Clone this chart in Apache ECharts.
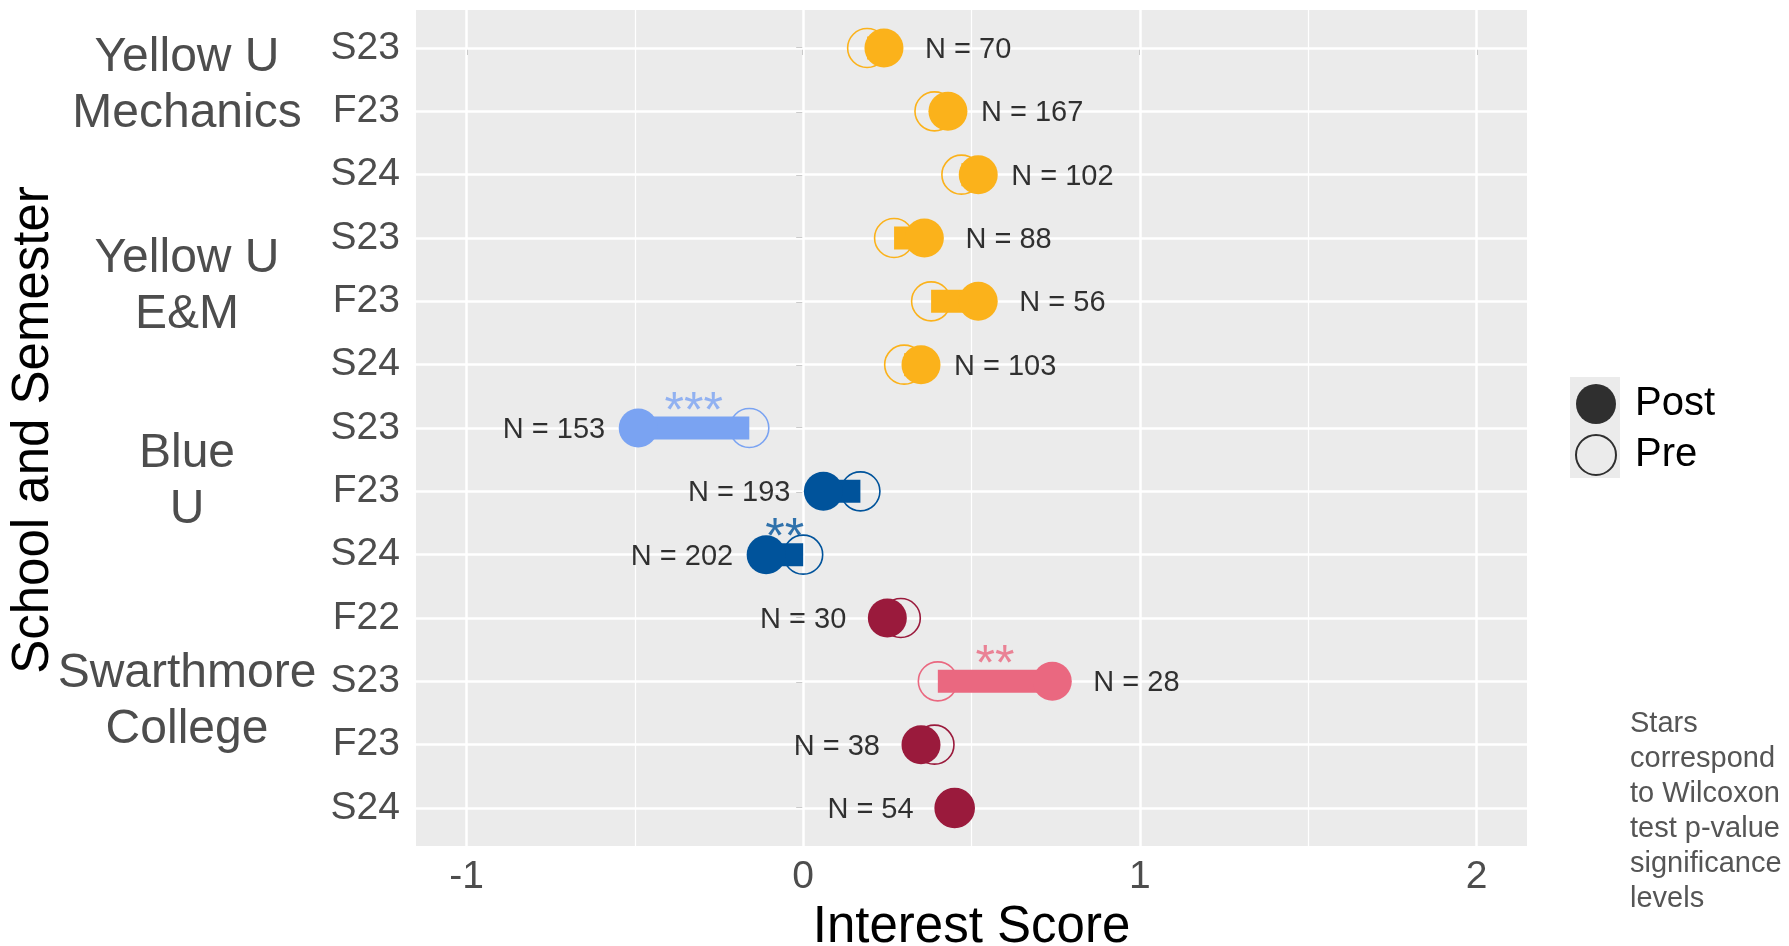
<!DOCTYPE html>
<html lang="en">
<head>
<meta charset="utf-8">
<title>Interest Score by School and Semester</title>
<style>
  html, body { margin: 0; padding: 0; background: #fff; }
  #main { width: 1789px; height: 946px; }
</style>
</head>
<body>
<div id="main"></div>
<script src="https://cdn.jsdelivr.net/npm/echarts@6/dist/echarts.min.js"></script>
<script>
// rows top -> bottom
var semesters   = ['S23', 'F23', 'S24', 'S23', 'F23', 'S24', 'S23', 'F23', 'S24', 'F22', 'S23', 'F23', 'S24'];
var preScores   = [0.19, 0.39, 0.47, 0.27, 0.38, 0.30, -0.16, 0.17, 0.00, 0.29, 0.40, 0.39, 0.45];
var postScores  = [0.24, 0.43, 0.52, 0.36, 0.52, 0.35, -0.49, 0.06, -0.11, 0.25, 0.74, 0.35, 0.45];
var sampleSizes = [70, 167, 102, 88, 56, 103, 153, 193, 202, 30, 28, 38, 54];
var stars       = ['', '', '', '', '', '', '***', '', '**', '', '**', '', ''];
var rowColors   = ['#FBB21B', '#FBB21B', '#FBB21B', '#FBB21B', '#FBB21B', '#FBB21B',
                   '#7AA3F2', '#00539B', '#00539B',
                   '#9A1A3C', '#EA6880', '#9A1A3C', '#9A1A3C'];
var xTicks      = [-1, 0, 1, 2];
var xMinorTicks = [-0.5, 0.5, 1.5];
var schools     = ['Yellow U\nMechanics', 'Yellow U\nE&M', 'Blue\nU', 'Swarthmore\nCollege'];
var labelNudge  = 0.25;   // N labels sit this far from the post point

var FONT = '"Liberation Sans", Arial, Helvetica, sans-serif';
var rows = semesters.map(function (s, i) { return i; });

var chart = echarts.init(document.getElementById('main'));

var preData = rows.map(function (i) {
  return {
    value: [preScores[i], i],
    itemStyle: { color: 'rgba(0,0,0,0)', borderColor: rowColors[i], borderWidth: 1.6, opacity: 1 }
  };
});

var postData = rows.map(function (i) {
  return { value: [postScores[i], i], itemStyle: { color: rowColors[i], opacity: 1 } };
});

// N labels, on the side of the post point
var nData = rows.map(function (i) {
  var side = postScores[i] > preScores[i] ? 1 : -1;
  return { value: [postScores[i] + side * labelNudge, i], label: { formatter: 'N = ' + sampleSizes[i] } };
});

var starData = [];
rows.forEach(function (i) {
  if (stars[i]) {
    starData.push({
      value: [(preScores[i] + postScores[i]) / 2, i],
      label: { formatter: stars[i], color: rowColors[i] }
    });
  }
});

var gridLines = [];
xTicks.forEach(function (v) { gridLines.push({ xAxis: v, lineStyle: { width: 2.5 } }); });
xMinorTicks.forEach(function (v) { gridLines.push({ xAxis: v, lineStyle: { width: 1.2 } }); });
rows.forEach(function (i) { gridLines.push({ yAxis: i, lineStyle: { width: 2.5 } }); });

var schoolY = [85.5, 286.5, 481.5, 701.5];

var graphics = schools.map(function (t, k) {
  return {
    type: 'text', x: 187, y: schoolY[k], z: 10,
    style: { text: t, font: '48px ' + FONT, lineHeight: 56, fill: '#4D4D4D', align: 'center', verticalAlign: 'middle' }
  };
});
graphics.push({
  type: 'text', x: 34, y: 430, rotation: Math.PI / 2, z: 10,
  style: { text: 'School and Semester', font: '51px ' + FONT, fill: '#000', align: 'center', verticalAlign: 'middle' }
});
graphics.push({
  type: 'rect', z: 0, shape: { x: 1570, y: 377, width: 50, height: 101 }, style: { fill: '#EBEBEB' }
});
graphics.push({
  type: 'text', x: 1630, y: 706, z: 10,
  style: {
    text: 'Stars\ncorrespond\nto Wilcoxon\ntest p-value\nsignificance\nlevels',
    font: '29px ' + FONT, lineHeight: 35, fill: '#555555', align: 'left', verticalAlign: 'top'
  }
});

chart.setOption({
  animation: false,
  textStyle: { fontFamily: FONT },
  grid: {
    left: 416, right: 262, top: 10, bottom: 100,
    outerBoundsMode: 'none', containLabel: false,
    show: true, backgroundColor: '#EBEBEB', borderWidth: 0
  },
  legend: {
    orient: 'vertical', left: 1575, top: 384, padding: 0,
    itemWidth: 40, itemHeight: 40, itemGap: 10, selectedMode: false,
    textStyle: { fontSize: 40, color: '#000', fontFamily: FONT, padding: [4, 0, 0, 14] },
    data: [
      { name: 'Post', icon: 'circle', itemStyle: { color: '#000' } },
      { name: 'Pre', icon: 'circle', itemStyle: { color: 'rgba(0,0,0,0)', borderColor: '#000', borderWidth: 2 } }
    ]
  },
  xAxis: {
    type: 'value', min: -1.15, max: 2.15,
    name: 'Interest Score', nameLocation: 'middle', nameGap: 56,
    nameTextStyle: { fontSize: 51, color: '#000', fontFamily: FONT },
    axisLine: { show: false },
    axisTick: { show: true, customValues: xTicks, length: 7, lineStyle: { color: '#333', width: 2 } },
    axisLabel: { customValues: xTicks, fontSize: 39, color: '#4D4D4D', margin: 12 },
    splitLine: { show: false }
  },
  yAxis: {
    type: 'value', min: -0.6, max: 12.6, inverse: true,
    axisLine: { show: false },
    axisTick: { show: true, customValues: rows, length: 7, lineStyle: { color: '#333', width: 2 } },
    axisLabel: {
      customValues: rows, fontSize: 39, color: '#4D4D4D', margin: 16, padding: [5, 0, 0, 0],
      formatter: function (v) { return semesters[Math.round(v)]; }
    },
    splitLine: { show: false }
  },
  graphic: graphics,
  series: [
    {
      type: 'scatter', name: 'gridlines', data: [], z: 1, silent: true,
      markLine: {
        z: 1, silent: true, symbol: 'none', label: { show: false }, animation: false,
        lineStyle: { color: '#FFFFFF', type: 'solid' },
        data: gridLines
      }
    },
    {
      type: 'scatter', name: 'Pre', z: 2, symbol: 'circle', symbolSize: 39,
      data: preData
    },
    {
      type: 'custom', name: 'change', z: 3,
      data: rows.map(function (i) { return [preScores[i], postScores[i], i]; }),
      encode: { x: [0, 1], y: 2 },
      renderItem: function (params, api) {
        var a = api.coord([api.value(0), api.value(2)]);
        var b = api.coord([api.value(1), api.value(2)]);
        var h = 23;
        return {
          type: 'rect',
          shape: { x: Math.min(a[0], b[0]), y: a[1] - h / 2, width: Math.abs(b[0] - a[0]), height: h },
          style: { fill: rowColors[params.dataIndex] }
        };
      }
    },
    {
      type: 'scatter', name: 'Post', z: 4, symbol: 'circle', symbolSize: 39,
      data: postData
    },
    {
      type: 'scatter', name: 'nLabels', z: 5, symbolSize: 0, silent: true,
      label: { show: true, position: 'inside', offset: [0, 2], fontSize: 29, color: '#000', fontFamily: FONT },
      data: nData
    },
    {
      type: 'scatter', name: 'stars', z: 5, symbolSize: 0, silent: true,
      label: { show: true, position: 'inside', offset: [0, -15], fontSize: 50, fontFamily: FONT },
      data: starData
    }
  ]
});
</script>
</body>
</html>
